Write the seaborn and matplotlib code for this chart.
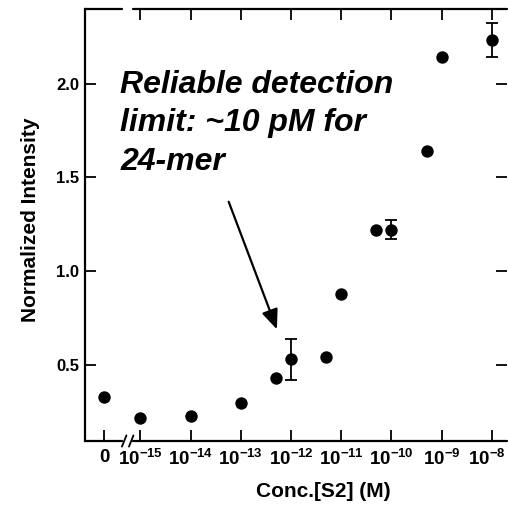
import numpy as np
import pandas as pd
import matplotlib
matplotlib.use("Agg")
import matplotlib.pyplot as plt
import matplotlib.transforms as mtransforms
import seaborn as sns

# ---- data ----
conc = [0, 1e-15, 1e-14, 1e-13, 5e-13, 1e-12, 5e-12, 1e-11, 5e-11, 1e-10, 5e-10, 1e-9, 1e-8]
intensity = [0.33, 0.22, 0.23, 0.30, 0.43, 0.53, 0.54, 0.88, 1.22, 1.22, 1.64, 2.14, 2.23]
err = [0, 0, 0, 0, 0, 0.11, 0, 0, 0, 0.05, 0, 0, 0.09]
decades = [1e-15, 1e-14, 1e-13, 1e-12, 1e-11, 1e-10, 1e-9, 1e-8]
dec_labels = ["-15", "-14", "-13", "-12", "-11", "-10", "-9", "-8"]
yticks = [0.5, 1.0, 1.5, 2.0]
ZERO_POS = 10 ** -15.72   # where "0" sits on the broken log axis

sns.set_style("white")
plt.rcParams["font.family"] = ["Liberation Sans", "DejaVu Sans"]
plt.rcParams["mathtext.fontset"] = "custom"
plt.rcParams["mathtext.bf"] = "Liberation Sans:bold"
plt.rcParams["mathtext.rm"] = "Liberation Sans"
for k in ["text.color", "axes.labelcolor", "xtick.color", "ytick.color", "axes.edgecolor"]:
    plt.rcParams[k] = "black"

xpos = [c if c > 0 else ZERO_POS for c in conc]
df = pd.DataFrame({"x": xpos, "y": intensity, "err": err})

fig = plt.figure(figsize=(5.08, 5.05), dpi=100)
ax = fig.add_axes([85 / 508, 64 / 505, 422 / 508, 432 / 505])
ax.set_xscale("log")
xlim = (10 ** -16.1, 10 ** -7.7)
ax.set_xlim(*xlim)
ax.set_ylim(0.095, 2.397)

eb = df[df["err"] > 0]
ax.errorbar(eb["x"], eb["y"], yerr=eb["err"], fmt="none", ecolor="black",
            elinewidth=1.3, capsize=4, capthick=1.3, zorder=2)
sns.scatterplot(data=df, x="x", y="y", ax=ax, color="black", s=80,
                edgecolor="black", linewidth=0, zorder=3, legend=False)

# ticks
ax.minorticks_off()
ax.set_xticks([ZERO_POS] + decades)
ax.set_xticklabels(["0"] + [r"$\mathbf{10^{%s}}$" % d for d in dec_labels],
                   fontsize=13.5, fontweight="bold")
ax.set_yticks(yticks)
ax.set_yticklabels(["%.1f" % v for v in yticks], fontsize=12, fontweight="bold")
ax.tick_params(axis="x", direction="in", length=8, width=1.3, pad=6, bottom=True, top=False)
ax.tick_params(axis="y", direction="in", length=8, width=1.3, pad=4, left=True, right=True)
ax.tick_params(axis="y", which="major", labelright=False)
last = ax.get_xticklabels()[-1]
last.set_transform(last.get_transform() +
                   mtransforms.ScaledTranslation(-5 / 100, 0, fig.dpi_scale_trans))

# top ticks (decades only)
ax2 = ax.twiny()
ax2.set_xscale("log")
ax2.set_xlim(*xlim)
ax2.minorticks_off()
ax2.set_xticks(decades)
ax2.set_xticklabels([])
ax2.tick_params(axis="x", direction="in", length=8, width=1.3, top=True)
for s in ax2.spines.values():
    s.set_visible(False)

# spines with break
for s in ["top", "bottom", "right"]:
    ax.spines[s].set_visible(False)
ax.spines["left"].set_linewidth(1.6)
ax.spines["left"].set_color("black")
gap_l, gap_r = 10 ** -15.36, 10 ** -15.14
tr = ax.get_xaxis_transform()
for yy in (0, 1):
    ax.plot([xlim[0], gap_l], [yy, yy], color="black", lw=1.6, transform=tr, clip_on=False, zorder=5)
    ax.plot([gap_r, xlim[1]], [yy, yy], color="black", lw=1.6, transform=tr, clip_on=False, zorder=5)
for xc in (10 ** -15.32, 10 ** -15.18):
    ax.plot([xc / 10 ** 0.045, xc * 10 ** 0.045], [-0.013, 0.013], color="black", lw=1.3,
            transform=tr, clip_on=False, zorder=5)

# labels
ax.set_xlabel("Conc.[S2] (M)", fontsize=15, fontweight="bold")
ax.set_ylabel("Normalized Intensity", fontsize=15, fontweight="bold")
ax.xaxis.set_label_coords(0.565, -0.095)
ax.yaxis.set_label_coords(-0.107, 0.512)

# annotation
ax.annotate("", xy=(10 ** -12.28, 0.69), xytext=(10 ** -13.24, 1.37),
            arrowprops=dict(arrowstyle="-|>,head_length=1.2,head_width=0.5",
                            color="black", lw=1.6, shrinkA=0, shrinkB=0))
fig.text(120 / 508, 1 - 70 / 505, "Reliable detection\nlimit: ~10 pM for\n24-mer",
         fontsize=23, fontweight="bold", fontstyle="italic", ha="left", va="top",
         linespacing=1.36, color="black")

fig.savefig("out.png", dpi=100)
